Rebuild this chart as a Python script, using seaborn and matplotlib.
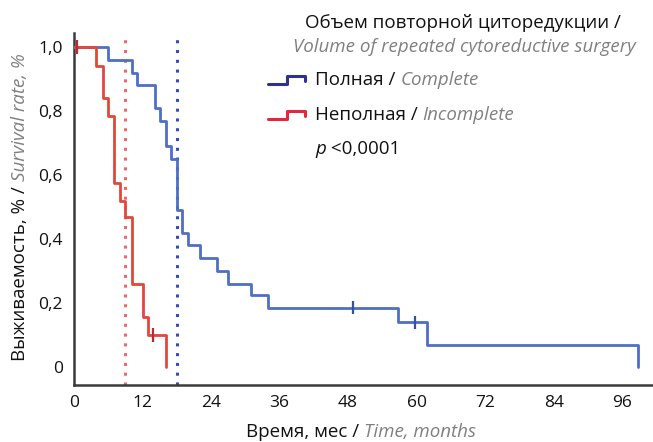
import numpy as np
import pandas as pd
import matplotlib
matplotlib.use("Agg")
import matplotlib.pyplot as plt
from matplotlib.lines import Line2D
import seaborn as sns

# Kaplan-Meier step data (time in months, survival fraction)
complete_time = [0, 6.0, 10.1, 11.1, 14.2, 15.1, 16.1, 17.0, 18.0, 19.0, 20.0,
                 22.1, 25.1, 27.0, 31.0, 34.0, 56.8, 61.9, 98.8]
complete_surv = [1.0, 0.96, 0.92, 0.88, 0.81, 0.77, 0.69, 0.65, 0.49, 0.42, 0.38,
                 0.34, 0.30, 0.26, 0.225, 0.185, 0.14, 0.07, 0.0]
complete_censored = [48.9, 59.8]

incomplete_time = [0, 3.85, 5.0, 6.0, 7.0, 8.0, 9.0, 10.1, 12.0, 13.0, 16.1]
incomplete_surv = [1.0, 0.94, 0.84, 0.785, 0.575, 0.52, 0.47, 0.26, 0.155, 0.10, 0.0]
incomplete_censored = [0.5, 13.9]

median_complete = 18.0
median_incomplete = 9.0

x_ticks = [0, 12, 24, 36, 48, 60, 72, 84, 96]
y_ticks = [0, 0.2, 0.4, 0.6, 0.8, 1.0]
y_tick_labels = ["0", "0,2", "0,4", "0,6", "0,8", "1,0"]

BLUE = "#4f6ec6"
RED = "#e2483a"
BLUE_DARK = "#2e3192"
RED_DARK = "#e4283c"
GRAY = "#808080"
INK = "#111111"

sns.set_style("white")
FONT = "Open Sans"
plt.rcParams["font.family"] = [FONT, "DejaVu Sans"]
plt.rcParams["text.color"] = INK
plt.rcParams["xtick.labelcolor"] = INK
plt.rcParams["ytick.labelcolor"] = INK

W, H = 653, 442
fig = plt.figure(figsize=(W / 100, H / 100), dpi=100)


def fx(px):
    return px / W


def fy(py):
    return 1 - py / H


ax = fig.add_axes([fx(74), fy(385), fx(653) - fx(74), fy(33) - fy(385)])

curves = pd.concat([
    pd.DataFrame({"t": complete_time, "s": complete_surv, "g": "complete"}),
    pd.DataFrame({"t": incomplete_time, "s": incomplete_surv, "g": "incomplete"}),
])

# median survival markers
ax.axvline(median_complete, color="#3a4ab4", lw=2.2, ls=(0, (1, 2.2)), zorder=1)
ax.axvline(median_incomplete, color="#f06868", lw=2.2, ls=(0, (1, 2.2)), zorder=1)

sns.lineplot(data=curves, x="t", y="s", hue="g", estimator=None,
             palette={"complete": BLUE, "incomplete": RED},
             drawstyle="steps-post", lw=2.0, legend=False, ax=ax, zorder=3)


def surv_at(times, surv, t):
    idx = np.searchsorted(times, t, side="right") - 1
    return surv[idx]


cens = pd.DataFrame({
    "t": complete_censored + incomplete_censored,
    "s": [surv_at(complete_time, complete_surv, t) for t in complete_censored]
         + [surv_at(incomplete_time, incomplete_surv, t) for t in incomplete_censored],
    "g": ["complete"] * len(complete_censored) + ["incomplete"] * len(incomplete_censored),
})
sns.scatterplot(data=cens, x="t", y="s", hue="g", marker="|", s=90, linewidth=1.6,
                palette={"complete": "#3550a8", "incomplete": "#b82a30"},
                legend=False, ax=ax, zorder=4)

ax.set_xlim(0, 101.4)
ax.set_ylim(-0.056, 1.044)
ax.set_xticks(x_ticks)
ax.set_yticks(y_ticks)
ax.set_yticklabels(y_tick_labels)
ax.set_xlabel("")
ax.set_ylabel("")
for side in ["top", "right"]:
    ax.spines[side].set_visible(False)
for side in ["left", "bottom"]:
    ax.spines[side].set_color("#3a3a3a")
    ax.spines[side].set_linewidth(1.8)
ax.tick_params(axis="x", direction="inout", length=7, width=1.5, color="#3a3a3a",
               labelsize=12.5, pad=4, labelcolor=INK)
ax.tick_params(axis="y", length=0, labelsize=12.5, pad=8, labelcolor=INK)

TS = 13.5

# axis titles: Russian part in black, English part in gray italic
xl = fig.text(fx(246), fy(432), "Время, мес / ", fontsize=TS, ha="left", va="center")
ax.annotate("Time, months", xy=(1, 0), xycoords=xl, ha="left", va="bottom",
            fontsize=TS, style="italic", color=GRAY, annotation_clip=False)

yl = fig.text(fx(20), fy(361), "Выживаемость, % / ", fontsize=TS, rotation=90,
              ha="center", va="bottom")
ax.annotate("Survival rate, %", xy=(0, 1), xycoords=yl, ha="left", va="bottom",
            rotation=90, fontsize=TS, style="italic", color=GRAY, annotation_clip=False)

# legend block
fig.text(fx(463), fy(23), "Объем повторной циторедукции /", fontsize=TS,
         ha="center", va="center")
fig.text(fx(464), fy(47), "Volume of repeated cytoreductive surgery", fontsize=TS,
         ha="center", va="center", style="italic", color=GRAY)


def step_icon(y_px, color):
    xs = [268, 287, 287, 305, 305]
    ys = [y_px + 4, y_px + 4, y_px - 4, y_px - 4, y_px + 1]
    fig.add_artist(Line2D([fx(v) for v in xs], [fy(v) for v in ys], color=color,
                          lw=2.2, transform=fig.transFigure))


step_icon(80, BLUE_DARK)
step_icon(115, RED_DARK)

t1 = fig.text(fx(315), fy(80), "Полная / ", fontsize=TS, ha="left", va="center")
ax.annotate("Complete", xy=(1, 0), xycoords=t1, ha="left", va="bottom",
            fontsize=TS, style="italic", color=GRAY, annotation_clip=False)
t2 = fig.text(fx(315), fy(115), "Неполная / ", fontsize=TS, ha="left", va="center")
ax.annotate("Incomplete", xy=(1, 0), xycoords=t2, ha="left", va="bottom",
            fontsize=TS, style="italic", color=GRAY, annotation_clip=False)
t3 = fig.text(fx(315), fy(149), "p", fontsize=TS, ha="left", va="center", style="italic")
ax.annotate(" <0,0001", xy=(1, 0), xycoords=t3, ha="left", va="bottom",
            fontsize=TS, annotation_clip=False)

fig.savefig("out.png", dpi=100)
